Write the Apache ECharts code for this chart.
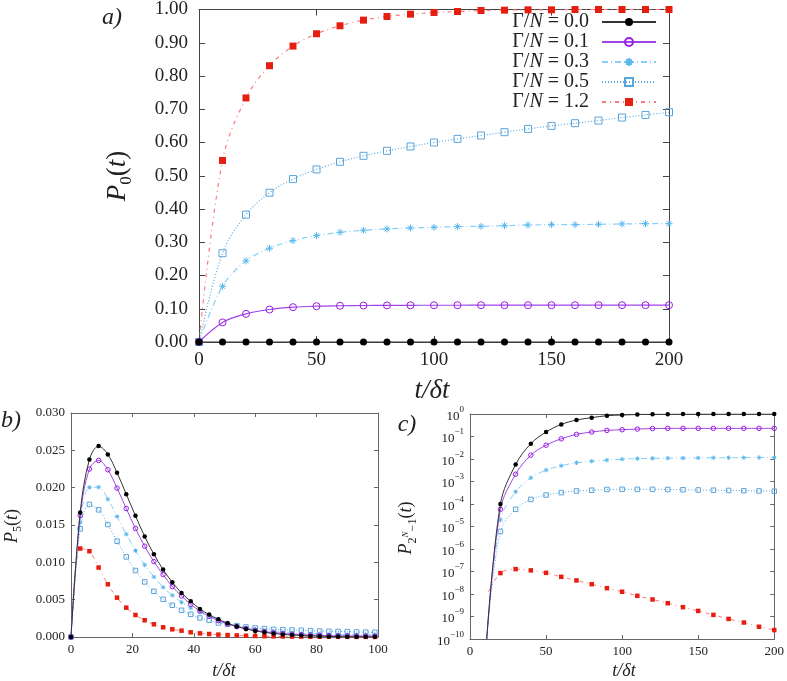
<!DOCTYPE html>
<html><head><meta charset="utf-8">
<script src="https://cdn.jsdelivr.net/npm/echarts@6/dist/echarts.min.js"></script>
<style>html,body{margin:0;padding:0;background:#fff}#c{width:787px;height:681px}</style>
</head><body><div id="c"></div>
<script>
// ---------- DATA ----------
const seriesNames = ['Γ/N = 0.0','Γ/N = 0.1','Γ/N = 0.3','Γ/N = 0.5','Γ/N = 1.2'];
// panel a) P0(t), t = 0..200 step 10
const tA = [0,10,20,30,40,50,60,70,80,90,100,110,120,130,140,150,160,170,180,190,200];
const a00 = [0,0,0,0,0,0,0,0,0,0,0,0,0,0,0,0,0,0,0,0,0];
const a01 = [0,0.0588,0.0847,0.0977,0.1047,0.1077,0.1090,0.1097,0.1101,0.1104,0.1105,0.1106,0.1107,0.1107,0.1107,0.1107,0.1107,0.1107,0.1107,0.1107,0.1107];
const a03 = [0,0.1675,0.244,0.282,0.305,0.32,0.33,0.336,0.34,0.343,0.345,0.347,0.348,0.35,0.352,0.353,0.353,0.354,0.355,0.356,0.356];
const a05 = [0,0.267,0.383,0.449,0.490,0.519,0.542,0.560,0.575,0.588,0.600,0.611,0.621,0.631,0.641,0.650,0.658,0.666,0.675,0.683,0.691];
const a12 = [0,0.546,0.734,0.831,0.890,0.927,0.951,0.968,0.979,0.986,0.991,0.994,0.997,0.998,0.999,0.999,1.0,1.0,1.0,1.0,1.0];
// panel b) P5(t), t = 0..99 step 3
const tB = [0,3,6,9,12,15,18,21,24,27,30,33,36,39,42,45,48,51,54,57,60,63,66,69,72,75,78,81,84,87,90,93,96,99];
const b00 = [0,0.01667,0.02378,0.02557,0.02445,0.0220,0.01913,0.01623,0.01346,0.01109,0.00903,0.00733,0.0059,0.00478,0.00376,0.003,0.00237,0.00184,0.00142,0.00108,0.00082,0.00062,0.00047,0.00035,0.00026,0.0002,0.00015,0.00011,0.00008,0.00006,0.000045,0.000034,0.000025,0.000019];
const b01 = [0,0.01627,0.02249,0.02365,0.0224,0.01994,0.01721,0.01453,0.01216,0.0101,0.00836,0.00675,0.0055,0.00438,0.00349,0.00277,0.00219,0.00174,0.00139,0.00112,0.0009,0.00072,0.00058,0.00047,0.00038,0.00031,0.00026,0.00022,0.00019,0.00017,0.00015,0.00014,0.00013,0.00012];
const b03 = [0,0.01533,0.02003,0.02007,0.01846,0.01614,0.01377,0.01158,0.00966,0.00805,0.00666,0.00559,0.00465,0.00389,0.00331,0.00282,0.00241,0.0019,0.0015,0.0012,0.001,0.00085,0.00072,0.00062,0.00054,0.00048,0.00043,0.00039,0.00036,0.00033,0.00031,0.0003,0.00029,0.00028];
const b05 = [0,0.01448,0.01775,0.01703,0.01506,0.01283,0.01073,0.0089,0.00738,0.00612,0.00505,0.00425,0.00358,0.00304,0.00255,0.00224,0.00188,0.0017,0.00152,0.00134,0.00121,0.00112,0.00103,0.00098,0.00094,0.0009,0.00085,0.0008,0.00076,0.00074,0.00072,0.00067,0.00065,0.00063];
const b12 = [0,0.01185,0.01149,0.0093,0.00706,0.00527,0.00393,0.00295,0.00224,0.0017,0.0013,0.00103,0.00085,0.00063,0.00049,0.0004,0.00032,0.00026,0.00021,0.00017,0.00014,0.00011,0.00009,0.00007,0.00006,0.00005,0.00004,0.000035,0.00003,0.000025,0.00002,0.000018,0.000015,0.000013];
// panel c) P_{2^N-1}(t), t = 20..200 step 10 (plus start of each curve, no marker)
const tC = [20,30,40,50,60,70,80,90,100,110,120,130,140,150,160,170,180,190,200];
const c00 = [1e-4,5.7e-3,0.048,0.158,0.345,0.54,0.69,0.84,0.9,0.95,0.97,0.98,0.99,0.99,0.995,1,1,1,1];
const c01 = [5.8e-5,2.1e-3,0.0149,0.041,0.079,0.124,0.158,0.187,0.2,0.214,0.225,0.23,0.23,0.23,0.23,0.23,0.23,0.23,0.23];
const c03 = [1.95e-5,3.5e-4,1.45e-3,3.2e-3,5e-3,6.8e-3,8e-3,8.9e-3,0.0098,0.0104,0.0107,0.0109,0.011,0.0112,0.0113,0.0114,0.0115,0.0116,0.0116];
const c05 = [6e-6,5.8e-5,1.6e-4,2.5e-4,3.2e-4,3.8e-4,4.1e-4,4.4e-4,4.5e-4,4.5e-4,4.5e-4,4.4e-4,4.3e-4,4.2e-4,4.1e-4,4.0e-4,3.9e-4,3.8e-4,3.7e-4];
const c12 = [8.5e-8,1.28e-7,1.12e-7,8.7e-8,5.8e-8,4.0e-8,2.73e-8,1.82e-8,1.26e-8,8.3e-9,5.7e-9,3.9e-9,2.6e-9,1.77e-9,1.18e-9,7.8e-10,5.4e-10,3.5e-10,2.5e-10];
const cStartT = [11,11,11,11,12];
const cStartV = [1e-10,1e-10,1e-10,1e-10,1.2e-8];
const ticksA = {x:[0,200,50], y:[0,1,0.1]};
const ticksB = {x:[0,100,20], y:[0,0.03,0.005]};
const ticksC = {x:[0,200,50], y:[1e-10,1,1]};

// ---------- STYLES ----------
const FONT = 'Liberation Serif';
const astPath = 'path://M0 5L10 5M5 0L5 10M1.5 1.5L8.5 8.5M1.5 8.5L8.5 1.5';
const styles = [
  {line:'#333333', mark:'#000000', symbol:'circle', type:'solid', fill:true},
  {line:'#a044e6', mark:'#9a1ee0', symbol:'circle', type:'solid', fill:false},
  {line:'#87cefa', mark:'#5ab8ec', symbol:astPath, type:[6,3,1,3], fill:false},
  {line:'#5aa9e0', mark:'#5aa4dc', symbol:'rect', type:[1,2], fill:false},
  {line:'#ff7a7a', mark:'#e51e10', symbol:'rect', type:[4,4,1,4], fill:true}
];

function mkSeries(idx, xi, yi, data, size, lw) {
  const s = styles[idx];
  const item = s.fill ? {color:s.mark} : {color:'rgba(255,255,255,0)', borderColor:s.mark, borderWidth:1};
  return {
    type:'line', name:seriesNames[idx], xAxisIndex:xi, yAxisIndex:yi,
    data:data, symbol:s.symbol, symbolSize:size, showAllSymbol:true,
    smooth:0.35, lineStyle:{color:s.line, width:lw, type:s.type},
    itemStyle:item, emphasis:{disabled:true}, z: 10 - idx, clip:true
  };
}
const zip = (t, v) => t.map((x, i) => [x, v[i]]);
const zipC = (k, v) => [{value:[cStartT[k], cStartV[k]], symbol:'none'}].concat(zip(tC, v));

const aVals = [a00,a01,a03,a05,a12];
const bVals = [b00,b01,b03,b05,b12];
const cVals = [c00,c01,c03,c05,c12];

const series = [];
for (let k = 4; k >= 0; k--) series.push(mkSeries(k, 0, 0, zip(tA, aVals[k]), 7, 1.2));
for (let k = 4; k >= 0; k--) series.push(mkSeries(k, 2, 2, zip(tB, bVals[k]), 4.5, 1));
for (let k = 4; k >= 0; k--) series.push(mkSeries(k, 4, 4, zipC(k, cVals[k]), 4.5, 1));

function axisX(grid, r, pos, show, fs, col, tl) {
  return {type:'value', gridIndex:grid, position:pos, min:r[0], max:r[1], interval:r[2],
    axisLine:{show:true, onZero:false, lineStyle:{color:col, width:1}},
    axisTick:{show:true, inside:true, length:tl, lineStyle:{color:col}},
    axisLabel:{show:show, color:'#222', fontFamily:FONT, fontSize:fs, margin: fs > 15 ? 9 : 6},
    splitLine:{show:false}};
}
function axisY(grid, r, pos, show, fs, col, tl, fmt, log) {
  const a = {type: log ? 'log' : 'value', gridIndex:grid, position:pos, min:r[0], max:r[1], interval:r[2],
    axisLine:{show:true, onZero:false, lineStyle:{color:col, width:1}},
    axisTick:{show:true, inside:true, length:tl, lineStyle:{color:col}},
    axisLabel:{show:show, color:'#222', fontFamily:FONT, fontSize:fs, margin: fs > 15 ? 11 : 6, formatter:fmt,
      rich:{b:{fontFamily:FONT, fontSize:13, color:'#222', lineHeight:18, verticalAlign:'bottom'},
            s:{fontFamily:FONT, fontSize:9, color:'#222', lineHeight:18, verticalAlign:'top'}}},
    splitLine:{show:false}};
  if (log) a.logBase = 10;
  return a;
}
const logFmt = v => { const e = Math.round(Math.log10(v)); return '{b|10}{s|' + (e < 0 ? '\u2212' + (-e) : e) + '}'; };

const option = {
  animation:false,
  backgroundColor:'#fff',
  grid:[
    {left:199, top:8, width:470, height:334},
    {left:71, top:413, width:307, height:224},
    {left:470, top:414, width:307, height:225}
  ],
  xAxis:[
    axisX(0, ticksA.x, 'bottom', true, 19, '#444', 6),
    axisX(0, ticksA.x, 'top', false, 19, '#444', 6),
    axisX(1, ticksB.x, 'bottom', true, 13, '#666', 4),
    axisX(1, ticksB.x, 'top', false, 13, '#666', 4),
    axisX(2, ticksC.x, 'bottom', true, 13, '#666', 4),
    axisX(2, ticksC.x, 'top', false, 13, '#666', 4)
  ],
  yAxis:[
    axisY(0, ticksA.y, 'left', true, 19, '#444', 6, v => v.toFixed(2)),
    axisY(0, ticksA.y, 'right', false, 19, '#444', 6, v => v.toFixed(2)),
    axisY(1, ticksB.y, 'left', true, 13, '#666', 4, v => v.toFixed(3)),
    axisY(1, ticksB.y, 'right', false, 13, '#666', 4, v => v.toFixed(3)),
    axisY(2, ticksC.y, 'left', true, 13, '#666', 4, logFmt, true),
    axisY(2, ticksC.y, 'right', false, 13, '#666', 4, logFmt, true)
  ],
  legend:{
    data:seriesNames, orient:'vertical', right:130, top:12, padding:0,
    align:'right', itemWidth:54, itemHeight:10, itemGap:0,
    selectedMode:false,
    formatter: n => '{u|Γ/}{i|N}{u|' + n.slice(3) + '}',
    textStyle:{fontFamily:FONT, fontSize:20, color:'#222', lineHeight:20, padding:[0,8,0,0],
      rich:{u:{fontFamily:FONT, fontSize:20, color:'#222', lineHeight:20},
            i:{fontFamily:FONT, fontSize:20, fontStyle:'italic', color:'#222', lineHeight:20}}}
  },
  graphic:[
    {type:'text', x:112, y:18, style:{text:'a)', font:'italic 24px "Liberation Serif"', fill:'#222', align:'center', verticalAlign:'middle'}},
    {type:'text', x:11, y:421, style:{text:'b)', font:'italic 24px "Liberation Serif"', fill:'#222', align:'center', verticalAlign:'middle'}},
    {type:'text', x:407, y:425, style:{text:'c)', font:'italic 24px "Liberation Serif"', fill:'#222', align:'center', verticalAlign:'middle'}},
    {type:'text', x:118, y:176, rotation:Math.PI/2, style:{text:'{i|P}{s|0}{n|(}{i|t}{n|)}', align:'center', verticalAlign:'middle',
      rich:{i:{font:'italic 27px "Liberation Serif"', fill:'#222'}, n:{font:'27px "Liberation Serif"', fill:'#222'},
            s:{font:'17px "Liberation Serif"', fill:'#222', verticalAlign:'bottom', lineHeight:34}}}},
    {type:'text', x:432, y:391, style:{text:'t/δt', font:'italic 27px "Liberation Serif"', fill:'#222', align:'center', verticalAlign:'middle'}},
    {type:'text', x:224, y:671, style:{text:'t/δt', font:'italic 18px "Liberation Serif"', fill:'#222', align:'center', verticalAlign:'middle'}},
    {type:'text', x:624, y:671, style:{text:'t/δt', font:'italic 18px "Liberation Serif"', fill:'#222', align:'center', verticalAlign:'middle'}},
    {type:'text', x:12, y:526, rotation:Math.PI/2, style:{text:'{i|P}{s|5}{n|(}{i|t}{n|)}', align:'center', verticalAlign:'middle',
      rich:{i:{font:'italic 18px "Liberation Serif"', fill:'#222'}, n:{font:'18px "Liberation Serif"', fill:'#222'},
            s:{font:'12px "Liberation Serif"', fill:'#222', verticalAlign:'bottom', lineHeight:23}}}},
    {type:'text', x:406, y:528, rotation:Math.PI/2, style:{text:'{i|P}{s|2}{ss|N}{s|\u22121}{n|(}{i|t}{n|)}', align:'center', verticalAlign:'middle',
      rich:{i:{font:'italic 18px "Liberation Serif"', fill:'#222', lineHeight:22}, n:{font:'18px "Liberation Serif"', fill:'#222', lineHeight:22},
            s:{font:'12px "Liberation Serif"', fill:'#222', verticalAlign:'bottom', lineHeight:26},
            ss:{font:'italic 9px "Liberation Serif"', fill:'#222', verticalAlign:'middle', lineHeight:26}}}}
  ],
  series:series
};
const chart = echarts.init(document.getElementById('c'), null, {renderer:'canvas'});
chart.setOption(option);
</script></body></html>
